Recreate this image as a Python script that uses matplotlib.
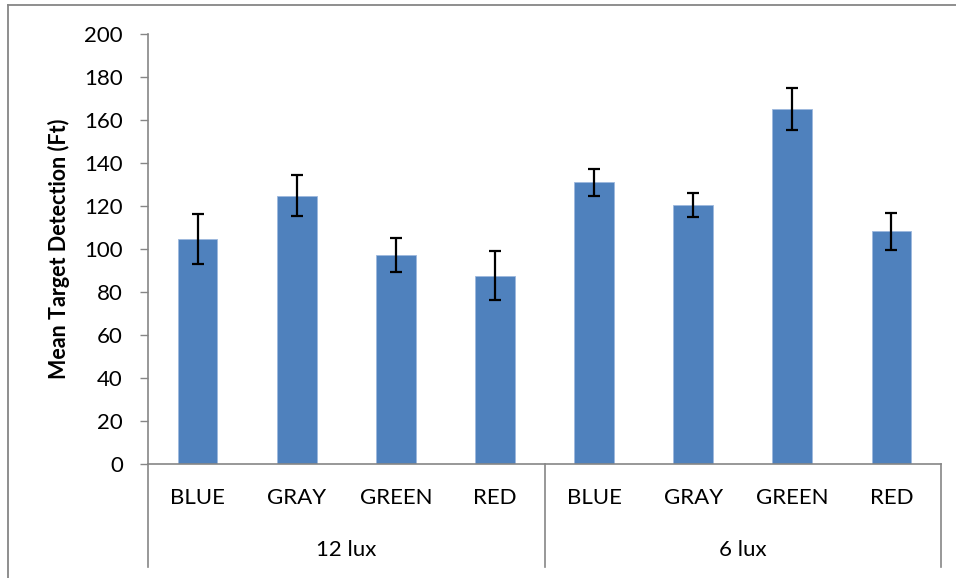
import matplotlib.pyplot as plt
from matplotlib.lines import Line2D
import matplotlib.transforms as mtransforms

# Data
groups = ['12 lux', '6 lux']
colors = ['BLUE', 'GRAY', 'GREEN', 'RED']
means_12 = [104.7, 124.8, 97.2, 87.6]
err_12 = [11.6, 9.4, 7.8, 11.5]
means_6 = [131.0, 120.3, 165.1, 108.2]
err_6 = [6.4, 5.6, 9.9, 8.5]

plt.rcParams['font.family'] = ['Lato', 'DejaVu Sans']

fig = plt.figure(figsize=(9.56, 5.78), dpi=100)
W, H = 956, 578
ax = fig.add_axes([148 / W, (H - 464) / H, (941 - 148) / W, (464 - 34) / H])

means = means_12 + means_6
errs = err_12 + err_6
labels = colors + colors
x = list(range(len(means)))

ax.bar(x, means, width=0.4, color='#4F81BD', edgecolor='#9DB8DE', linewidth=0.6, zorder=2)
ax.errorbar(x, means, yerr=errs, fmt='none', ecolor='black', elinewidth=1.6,
            capsize=4.3, capthick=1.6, zorder=3)

ax.set_xlim(-0.5, len(means) - 0.5)
ax.set_ylim(0, 200)
ax.set_yticks(range(0, 201, 20))
ax.tick_params(axis='y', length=6, width=1, color='#868686', labelsize=16, pad=12)
ax.set_xticks([])
ax.set_ylabel('Mean Target Detection (Ft)', fontsize=15.5, fontweight='bold', labelpad=10)

for s in ['top', 'right']:
    ax.spines[s].set_visible(False)
for s in ['left', 'bottom']:
    ax.spines[s].set_color('#868686')
    ax.spines[s].set_linewidth(1.2)

# two-level category axis
trans = mtransforms.blended_transform_factory(ax.transData, ax.transAxes)
ybot = -(567 - 464) / 430
for xs in [-0.5, 3.5, 7.5]:
    ax.plot([xs, xs], [0, ybot], transform=trans, color='#868686', lw=1.2,
            clip_on=False)
for i, lab in enumerate(labels):
    ax.text(i, -(498 - 464) / 430, lab, transform=trans, ha='center', va='center',
            fontsize=16)
for g, name in enumerate(groups):
    ax.text(g * 4 + 1.5, -(550 - 464) / 430, name, transform=trans, ha='center',
            va='center', fontsize=16)

# chart border (only top and left edges are visible in the crop)
fig.lines.append(Line2D([8 / W, 1], [1 - 5 / H, 1 - 5 / H], transform=fig.transFigure,
                        color='#868686', lw=1.3))
fig.lines.append(Line2D([8 / W, 8 / W], [0, 1 - 5 / H], transform=fig.transFigure,
                        color='#868686', lw=1.3))

fig.savefig('out.png', dpi=100)
